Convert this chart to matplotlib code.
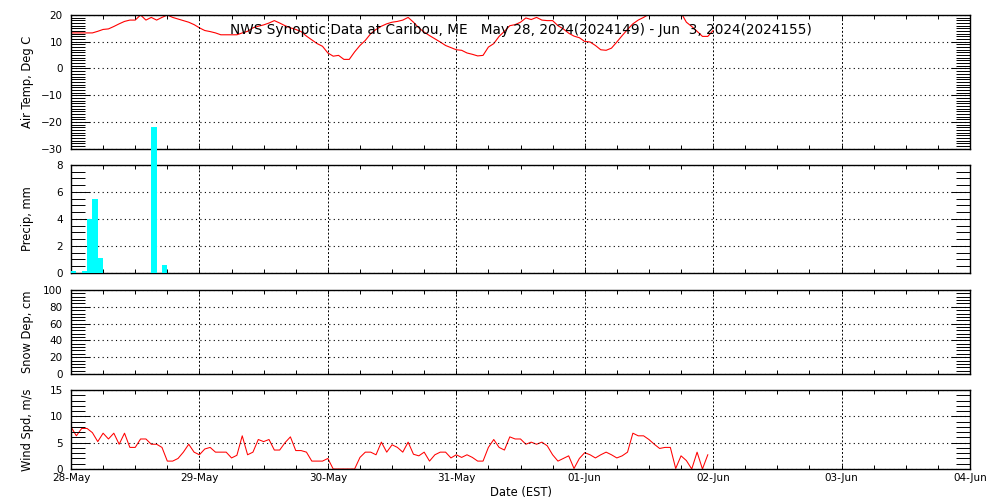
import matplotlib
matplotlib.use('Agg')
import matplotlib.pyplot as plt
import numpy as np
from matplotlib.ticker import MultipleLocator

# ---------------- data (hours since 28-May 00:00 EST) ----------------
temp_c = [13.3, 13.3, 13.3, 13.3, 13.3, 13.9, 14.6, 14.8, 15.7, 16.7,
          17.6, 18.1, 18.1, 20.0, 18.1, 19.1, 18.1, 19.1, 20.0, 19.1,
          18.5, 17.9, 17.3, 16.4, 15.2, 14.2, 13.8, 13.3, 12.6, 12.6,
          12.6, 12.6, 13.3, 13.9, 15.2, 15.8, 16.3, 17.0, 17.9, 17.0,
          16.0, 15.2, 14.6, 13.8, 12.1, 10.7, 9.3, 8.3, 5.8, 4.6,
          4.9, 3.4, 3.4, 6.2, 8.6, 10.5, 13.0, 14.6, 15.8, 16.7,
          17.3, 17.6, 18.1, 19.1, 17.3, 15.2, 13.6, 12.3, 11.1, 9.9,
          8.6, 7.8, 7.0, 6.8, 5.8, 5.3, 4.7, 4.9, 8.0, 9.3,
          12.0, 13.9, 16.0, 16.4, 17.3, 18.9, 18.3, 19.1, 18.1, 17.9,
          17.9, 16.0, 14.8, 13.2, 12.1, 11.5, 10.1, 9.9, 8.6, 7.0,
          6.8, 7.6, 9.9, 12.3, 14.6, 16.7, 18.1, 19.1, 20.3, 21.0,
          22.0, 22.5, 22.5, 22.0, 20.8, 17.3, 15.7, 13.9, 12.0, 12.0,
          14.2]
temp_hours = list(range(len(temp_c)))

precip_hours = [0, 2, 3, 4, 5, 15, 17]
precip_mm = [0.1, 0.1, 4.0, 5.5, 1.1, 10.8, 0.6]

wind_ms = [8.0, 6.3, 7.7, 7.7, 6.9, 5.2, 6.8, 5.7, 6.8, 4.7,
           6.8, 4.1, 4.1, 5.7, 5.7, 4.7, 4.7, 4.1, 1.5, 1.5,
           2.0, 3.2, 4.7, 3.2, 2.7, 3.8, 4.1, 3.2, 3.2, 3.2,
           2.1, 2.6, 6.3, 2.7, 3.2, 5.6, 5.2, 5.6, 3.6, 3.6,
           5.0, 6.1, 3.5, 3.5, 3.2, 1.5, 1.5, 1.5, 2.0, 0.0,
           0.0, 0.0, 0.0, 0.0, 2.2, 3.2, 3.2, 2.7, 5.1, 3.2,
           4.6, 4.1, 3.2, 5.1, 2.8, 2.5, 3.2, 1.5, 2.7, 3.2,
           3.2, 2.1, 2.7, 2.2, 2.7, 2.2, 1.5, 1.5, 4.1, 5.6,
           4.1, 3.6, 6.1, 5.7, 5.7, 4.7, 5.1, 4.7, 5.1, 4.4,
           2.7, 1.5, 2.0, 2.5, 0.1, 2.0, 3.1, 2.7, 2.1, 2.7,
           3.2, 2.7, 2.1, 2.5, 3.2, 6.8, 6.3, 6.3, 5.6, 4.7,
           3.9, 4.1, 4.1, 0.1, 2.5, 1.6, 0.0, 3.2, 0.0, 2.7]
wind_hours = list(range(len(wind_ms)))

day_labels = ["28-May", "29-May", "30-May", "31-May",
              "01-Jun", "02-Jun", "03-Jun", "04-Jun"]

title = "NWS Synoptic Data at Caribou, ME   May 28, 2024(2024149) - Jun  3, 2024(2024155)"

# ---------------- figure ----------------
fig = plt.figure(figsize=(10, 5), dpi=100)
L, W = 0.071, 0.899
ax_t = fig.add_axes([L, 0.7026, W, 0.2674])
ax_p = fig.add_axes([L, 0.4546, W, 0.2154])
ax_s = fig.add_axes([L, 0.252, W, 0.168])
ax_w = fig.add_axes([L, 0.062, W, 0.158])

TICKFS = 7.5
LABFS = 8.3


def style(ax, ylo, yhi, ymaj, ymin, ylabel, show_x=False):
    ax.set_xlim(0, 24 * 7)
    ax.set_ylim(ylo, yhi)
    ax.xaxis.set_major_locator(MultipleLocator(24))
    ax.xaxis.set_minor_locator(MultipleLocator(6))
    ax.yaxis.set_major_locator(MultipleLocator(ymaj))
    ax.yaxis.set_minor_locator(MultipleLocator(ymin))
    for s in ax.spines.values():
        s.set_linewidth(1.0)
        s.set_zorder(4)
    ax.tick_params(axis='x', which='both', direction='in', top=True,
                   bottom=True, length=3, width=0.7, labelsize=TICKFS,
                   pad=3, labelbottom=show_x)
    ax.tick_params(axis='y', which='major', direction='in', left=True,
                   right=True, length=13.5, width=0.7, labelsize=TICKFS, pad=6)
    ax.tick_params(axis='y', which='minor', direction='in', left=True,
                   right=True, length=10, width=0.7)
    ax.yaxis.grid(True, which='major', color='black',
                  linestyle=(0, (1, 3)), linewidth=0.8)
    ax.xaxis.grid(True, which='major', color='black',
                  linestyle=(0, (2, 2)), linewidth=0.7)
    ax.set_axisbelow(False)
    if show_x:
        ax.set_xticks(np.arange(0, 24 * 8, 24))
        ax.set_xticklabels(day_labels)
    cy = (ax.get_position().y0 + ax.get_position().y1) / 2
    fig.text(0.027, cy, ylabel, rotation=90, ha='center', va='center',
             fontsize=LABFS)


style(ax_t, -30, 20, 10, 1, "Air Temp, Deg C")
style(ax_p, 0, 8, 2, 0.5, "Precip, mm")
style(ax_s, 0, 100, 20, 4, "Snow Dep, cm")
style(ax_w, 0, 15, 5, 1, "Wind Spd, m/s", show_x=True)

ax_t.plot(temp_hours, temp_c, color='#ff0000', linewidth=0.8)
ax_p.bar(precip_hours, precip_mm, width=1.0, align='edge',
         color='#00ffff', linewidth=0, clip_on=False, zorder=5)
ax_w.plot(wind_hours, wind_ms, color='#ff0000', linewidth=0.75)

ax_w.set_xlabel("Date (EST)", fontsize=LABFS, labelpad=2)

fig.text(0.5205, 0.94, title, ha='center', va='center', fontsize=9.8)

fig.savefig("out.png", dpi=100)
